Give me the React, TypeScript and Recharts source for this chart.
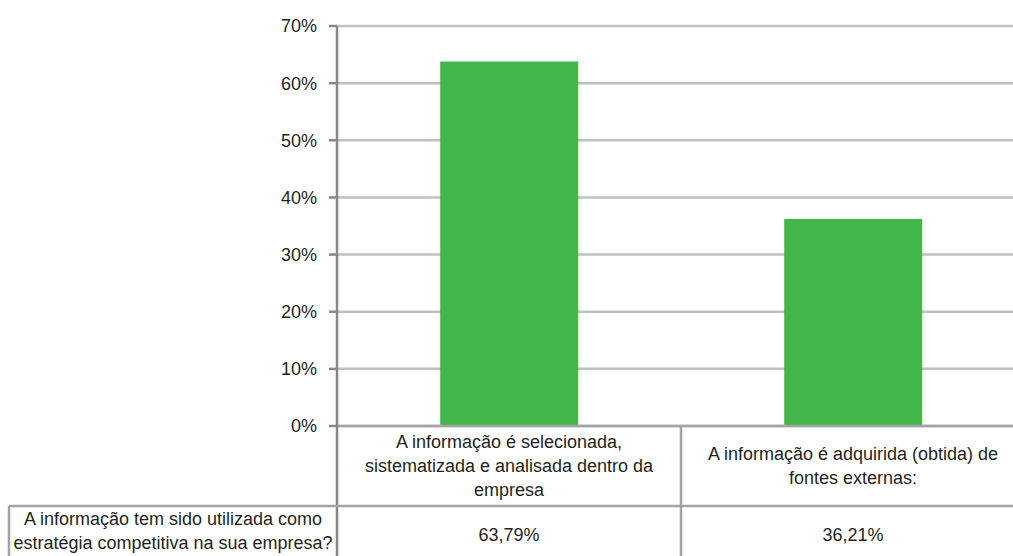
import { BarChart, Bar, XAxis, YAxis, CartesianGrid } from 'recharts';

const categories = [
  "A informação é selecionada,\nsistematizada e analisada dentro da\nempresa",
  "A informação é adquirida (obtida) de\nfontes externas:",
];
const values = [63.79, 36.21];
const yTicks = [0, 10, 20, 30, 40, 50, 60, 70];
const rowHeader = "A informação tem sido utilizada como\nestratégia competitiva na sua empresa?";

const chartData = categories.map((name, i) => ({ name, value: values[i] }));

const FONT = '"Liberation Sans", Arial, sans-serif';
const TEXT = "#231F20";
const TABLE_LINE = "#A3A3A3";
const AXIS_LINE = "#878787";

// layout of the plot / table
const PLOT_BOTTOM = 426;
const HEADER_ROW_TOP = 506;
const BAND = 344;
const LINE_H = 24;

const fmtValue = (v: number) => v.toFixed(2).replace('.', ',') + '%';

const TableTick = (props: any) => {
  const { x, payload, index } = props;
  const half = BAND / 2;
  const lines = String(payload.value).split('\n');
  const midY = (PLOT_BOTTOM + HEADER_ROW_TOP) / 2 + 6;
  const row = chartData[index];
  const headerLines = rowHeader.split('\n');
  const left = x - half;
  return (
    <g>
      {index === 0 && (
        <g>
          <line x1={left} y1={PLOT_BOTTOM} x2={left} y2={560} stroke={AXIS_LINE} strokeWidth={2.5} />
          <line x1={9} y1={HEADER_ROW_TOP} x2={1040} y2={HEADER_ROW_TOP} stroke={TABLE_LINE} strokeWidth={2.5} />
          <line x1={9} y1={HEADER_ROW_TOP} x2={9} y2={560} stroke={TABLE_LINE} strokeWidth={2.5} />
          {headerLines.map((t, i) => (
            <text key={i} x={(9 + left) / 2} y={525 + i * LINE_H} textAnchor="middle"
              fontFamily={FONT} fontSize={18} fill={TEXT}>{t}</text>
          ))}
        </g>
      )}
      <line x1={x + half} y1={PLOT_BOTTOM} x2={x + half} y2={560} stroke={TABLE_LINE} strokeWidth={2.5} />
      {lines.map((t, i) => (
        <text key={i} x={x} y={midY + (i - (lines.length - 1) / 2) * LINE_H} textAnchor="middle"
          fontFamily={FONT} fontSize={18} fill={TEXT}>{t}</text>
      ))}
      <text x={x} y={541} textAnchor="middle" fontFamily={FONT} fontSize={18} fill={TEXT}>
        {fmtValue(row.value)}
      </text>
    </g>
  );
};

export default function App() {
  return (
    <div style={{ position: 'absolute', left: 0, top: 0, width: 1013, height: 556, overflow: 'hidden', background: '#fff' }}>
      <BarChart
        width={1040}
        height={556}
        data={chartData}
        margin={{ top: 26, right: 15, left: 0, bottom: 0 }}
        barCategoryGap="30%"
      >
        <CartesianGrid vertical={false} stroke="#C0C0C0" strokeWidth={2.5} />
        <XAxis
          dataKey="name"
          height={130}
          interval={0}
          axisLine={{ stroke: TABLE_LINE, strokeWidth: 2.5 }}
          tickLine={false}
          tick={<TableTick />}
        />
        <YAxis
          width={337}
          domain={[0, 70]}
          ticks={yTicks}
          interval={0}
          tickFormatter={(v: number) => `${v}%`}
          axisLine={{ stroke: AXIS_LINE, strokeWidth: 2.5 }}
          tickLine={{ stroke: AXIS_LINE, strokeWidth: 2.5 }}
          tickSize={8}
          tickMargin={12}
          tick={{ fontFamily: FONT, fontSize: 18, fill: TEXT }}
        />
        <Bar dataKey="value" fill="#43B649" isAnimationActive={false} />
      </BarChart>
    </div>
  );
}
